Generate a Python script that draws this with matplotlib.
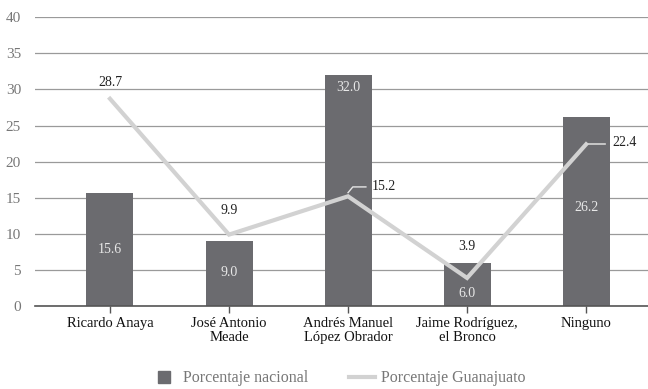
import matplotlib.pyplot as plt
from matplotlib.lines import Line2D
import numpy as np

candidatos = ["Ricardo Anaya", "José Antonio\nMeade", "Andrés Manuel\nLópez Obrador",
              "Jaime Rodríguez,\nel Bronco", "Ninguno"]
nacional = [15.6, 9.0, 32.0, 6.0, 26.2]
guanajuato = [28.7, 9.9, 15.2, 3.9, 22.4]
yticks = [0, 5, 10, 15, 20, 25, 30, 35, 40]

plt.rcParams["font.family"] = "serif"
plt.rcParams["font.serif"] = ["Liberation Serif", "DejaVu Serif"]

bar_color = "#6b6b6f"
line_color = "#d2d2d2"
grid_color = "#9a9a9a"

fig = plt.figure(figsize=(6.48, 3.89), dpi=100)
ax = fig.add_axes([0.054, 0.213, 0.946, 0.743])

x = np.arange(len(candidatos))
ax.bar(x, nacional, width=0.395, color=bar_color, zorder=2)
ax.plot(x, guanajuato, color=line_color, lw=3, zorder=3, solid_joinstyle="miter")

# valores nacionales dentro de las barras
pos_nac = [7.8, 4.6, 30.3, 1.8, 13.6]
for xi, v, yp in zip(x, nacional, pos_nac):
    ax.text(xi, yp, f"{v:.1f}", ha="center", va="center", color="#e8e8e8", fontsize=10, zorder=4)

# valores de Guanajuato
ax.text(0, 30.9, f"{guanajuato[0]:.1f}", ha="center", va="center", fontsize=10, color="#222222")
ax.text(1, 13.3, f"{guanajuato[1]:.1f}", ha="center", va="center", fontsize=10, color="#222222")
ax.text(3, 8.2, f"{guanajuato[3]:.1f}", ha="center", va="center", fontsize=10, color="#222222")
ax.plot([2, 2.04, 2.15], [guanajuato[2] + 0.5, 16.5, 16.5], color="#e6e6e6", lw=1, zorder=4)
ax.text(2.2, 16.5, f"{guanajuato[2]:.1f}", ha="left", va="center", fontsize=10, color="#222222")
ax.plot([4, 4.16], [guanajuato[4], guanajuato[4]], color="#d6d6d6", lw=1.2, zorder=4)
ax.text(4.22, 22.7, f"{guanajuato[4]:.1f}", ha="left", va="center", fontsize=10, color="#222222")

ax.set_ylim(0, 40)
ax.set_xlim(-0.63, 4.52)
ax.set_yticks(yticks)
ax.set_xticks(x)
ax.set_xticklabels(candidatos, fontsize=10.5, color="#111111", linespacing=1.05)
ax.tick_params(axis="y", length=0, labelsize=11, labelcolor="#777777", pad=10)
ax.tick_params(axis="x", length=5, color="#555555", width=1, pad=3)
ax.yaxis.grid(True, color=grid_color, lw=0.9, zorder=0)
ax.set_axisbelow(True)
for s in ["top", "right", "left"]:
    ax.spines[s].set_visible(False)
ax.spines["bottom"].set_color("#555555")
ax.spines["bottom"].set_linewidth(1.2)

handles = [
    Line2D([], [], ls="none", marker="s", markersize=9, color=bar_color),
    Line2D([], [], color=line_color, lw=3),
]
leg = fig.legend(handles, ["Porcentaje nacional", "Porcentaje Guanajuato"],
                 loc="lower center", bbox_to_anchor=(0.522, -0.03), ncol=2, frameon=False,
                 fontsize=11.5, handlelength=1.6, columnspacing=2.6, handletextpad=0.35)
for t in leg.get_texts():
    t.set_color("#777777")

fig.savefig("out.png", dpi=100)
